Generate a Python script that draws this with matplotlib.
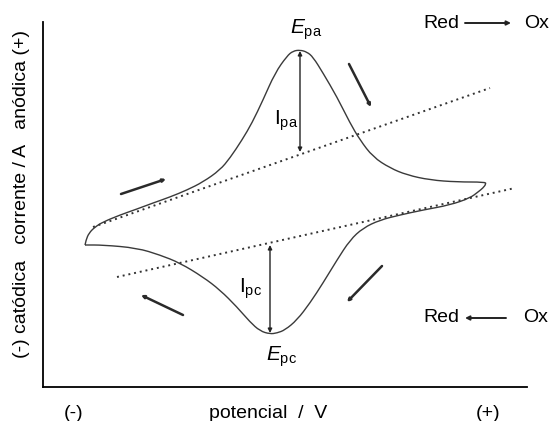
import matplotlib
matplotlib.use('Agg')
import matplotlib.pyplot as plt
from matplotlib.path import Path
from matplotlib.patches import PathPatch

plt.rcParams['font.family'] = ['Liberation Sans', 'DejaVu Sans']
plt.rcParams['mathtext.fontset'] = 'custom'
plt.rcParams['mathtext.rm'] = 'Liberation Sans'
plt.rcParams['mathtext.it'] = 'Liberation Sans:italic'

# voltammogram (schematic units, current grows upward)
potential = [85, 86, 89, 95, 103, 120, 137, 153, 170, 187, 203, 220, 230, 242, 252, 263,
             275, 287, 293, 300, 307, 313, 323, 337, 350, 360, 373, 390, 407, 430, 457,
             485, 486, 483, 478, 470, 450, 423, 400, 380, 363, 350, 337, 323, 310, 297,
             285, 277, 270, 260, 250, 237, 220, 203, 180, 160, 137, 103, 85]
current = [245, 240, 233, 227, 222, 215, 209, 203, 197, 190, 182, 170, 158, 140, 123, 100,
           73, 56, 51, 50, 52, 57, 73, 97, 123, 140, 157, 168, 175, 180, 182,
           182, 184, 188, 192, 198, 205, 210, 215, 220, 228, 240, 260, 283, 303, 320,
           330, 333, 334, 331, 322, 307, 290, 277, 263, 255, 248, 245, 245]

# extrapolated baselines
base_a_x = [93, 490]
base_a_y = [227, 88]
base_c_x = [117, 515]
base_c_y = [277, 188]

# peaks
E_pa = (300, 50)
E_pc = (270, 334)
base_at_pa = 152
base_at_pc = 245

# scan direction arrows (start, end)
scan_arrows = [((121, 194), (166, 179)),
               ((349, 64), (371, 107)),
               ((382, 266), (347, 302)),
               ((183, 315), (141, 295))]

fig = plt.figure(figsize=(5.53, 4.21), dpi=100)
ax = fig.add_axes([43 / 553, 34 / 421, 484 / 553, 365 / 421])
ax.set_xlim(43, 527)
ax.set_ylim(387, 22)

# smooth the read points with quadratic bezier segments (points act as control points)
pts = list(zip(potential, current))
verts = [pts[0]]
codes = [Path.MOVETO]
for i in range(1, len(pts) - 1):
    mid = ((pts[i][0] + pts[i + 1][0]) / 2, (pts[i][1] + pts[i + 1][1]) / 2)
    verts += [pts[i], mid]
    codes += [Path.CURVE3, Path.CURVE3]
verts.append(pts[-1])
codes.append(Path.LINETO)
ax.add_patch(PathPatch(Path(verts, codes), facecolor='none', edgecolor='#3a3a3a', lw=1.0))

ax.plot(base_a_x, base_a_y, color='#333333', lw=1.4, ls=(0, (1, 2)))
ax.plot(base_c_x, base_c_y, color='#333333', lw=1.4, ls=(0, (1, 2)))

dbl = dict(arrowstyle='<|-|>', color='#222222', lw=1.0, mutation_scale=6, shrinkA=0, shrinkB=0)
ax.annotate('', xy=(E_pa[0], E_pa[1] + 1), xytext=(E_pa[0], base_at_pa), arrowprops=dbl)
ax.annotate('', xy=(E_pc[0], E_pc[1] - 1), xytext=(E_pc[0], base_at_pc), arrowprops=dbl)

for (x0, y0), (x1, y1) in scan_arrows:
    ax.annotate('', xy=(x1, y1), xytext=(x0, y0),
                arrowprops=dict(arrowstyle='-|>', color='#2a2a2a', lw=1.8,
                                mutation_scale=4, shrinkA=0, shrinkB=0))

ax.text(306, 30, r'$E_{\mathrm{pa}}$', fontsize=15, ha='center', va='center')
ax.text(286, 121, r'$\mathrm{I}_{\mathrm{pa}}$', fontsize=15, ha='center', va='center')
ax.text(251, 289, r'$\mathrm{I}_{\mathrm{pc}}$', fontsize=15, ha='center', va='center')
ax.text(281, 357, r'$E_{\mathrm{pc}}$', fontsize=15, ha='center', va='center')

# Red / Ox labels
ax.text(441, 23, 'Red', fontsize=14, ha='center', va='center')
ax.text(537, 23, 'Ox', fontsize=14, ha='center', va='center', clip_on=False)
ax.annotate('', xy=(511, 23), xytext=(465, 23),
            arrowprops=dict(arrowstyle='-|>', color='#222222', lw=1.4,
                            mutation_scale=6, shrinkA=0, shrinkB=0))
ax.text(441, 318, 'Red', fontsize=14, ha='center', va='center')
ax.text(536, 318, 'Ox', fontsize=14, ha='center', va='center', clip_on=False)
ax.annotate('', xy=(465, 318), xytext=(506, 318),
            arrowprops=dict(arrowstyle='-|>', color='#222222', lw=1.4,
                            mutation_scale=6, shrinkA=0, shrinkB=0))

ax.spines['top'].set_visible(False)
ax.spines['right'].set_visible(False)
ax.spines['left'].set_linewidth(1.3)
ax.spines['bottom'].set_linewidth(1.3)
ax.set_yticks([])
ax.set_xticks([74, 268, 488], ['(-)', 'potencial  /  V', '(+)'], fontsize=14)
ax.tick_params(axis='x', length=0, pad=13)

ax.text(-0.044, 0.53, '(-) catódica   corrente / A   anódica (+)', fontsize=14,
        rotation=90, ha='center', va='center', transform=ax.transAxes)

fig.savefig('out.png', dpi=100)
